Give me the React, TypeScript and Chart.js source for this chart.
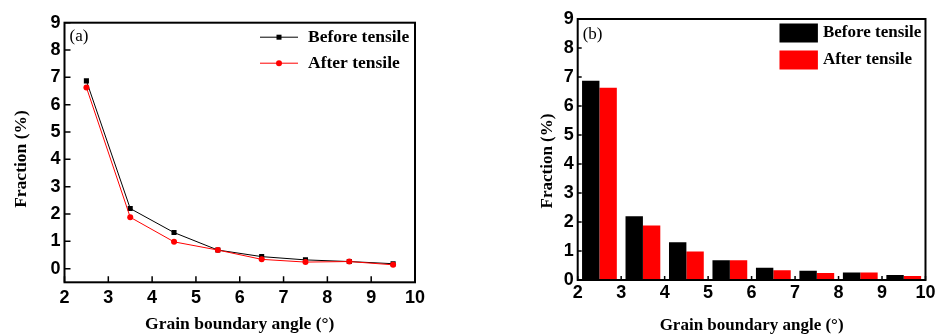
import React, { useEffect, useRef } from "react";
import { Chart, registerables } from "chart.js";

Chart.register(...registerables);

const angles = [2.5, 3.5, 4.5, 5.5, 6.5, 7.5, 8.5, 9.5];
const beforeA = [6.87, 2.2, 1.32, 0.68, 0.44, 0.32, 0.26, 0.18];
const afterA = [6.63, 1.88, 0.98, 0.68, 0.34, 0.24, 0.26, 0.14];
const beforeB = [6.87, 2.2, 1.3, 0.68, 0.42, 0.32, 0.26, 0.17];
const afterB = [6.63, 1.88, 0.98, 0.68, 0.34, 0.24, 0.26, 0.14];
const seriesLabels = ["Before tensile", "After tensile"];
const panelLabels = ["(a)", "(b)"];
const xTitle = "Grain boundary angle (\u00b0)";
const yTitle = "Fraction (%)";

const SERIF = '"Liberation Serif", "Times New Roman", serif';
const SANS = '"Liberation Sans", Arial, sans-serif';

const framePlugin = {
  id: "frame",
  afterDatasetsDraw(chart: any, _args: any, opts: any) {
    const { ctx, chartArea } = chart;
    const { left, top, right, bottom } = chartArea;
    const xs = chart.scales.x;
    const ys = chart.scales.y;
    ctx.save();
    ctx.strokeStyle = "#000";
    ctx.lineWidth = 1.5;
    ctx.beginPath();
    xs.ticks.forEach((t: any) => {
      const px = xs.getPixelForValue(t.value);
      ctx.moveTo(px, bottom);
      ctx.lineTo(px, bottom - opts.tickLen);
    });
    ys.ticks.forEach((t: any) => {
      const py = ys.getPixelForValue(t.value);
      ctx.moveTo(left, py);
      ctx.lineTo(left + opts.tickLen, py);
    });
    ctx.stroke();
    ctx.lineWidth = 2;
    ctx.strokeRect(left, top, right - left, bottom - top);

    // panel label
    ctx.fillStyle = "#000";
    ctx.font = `17px ${SERIF}`;
    ctx.textAlign = "left";
    ctx.textBaseline = "middle";
    ctx.fillText(opts.label, left + opts.labelDx, top + opts.labelDy);

    // y axis title
    ctx.save();
    ctx.font = `bold ${opts.titleSize}px ${SERIF}`;
    ctx.textAlign = "center";
    ctx.translate(opts.yTitleX, (top + bottom) / 2 + opts.yTitleDy);
    ctx.rotate(-Math.PI / 2);
    ctx.fillText(yTitle, 0, 0);
    ctx.restore();

    // legend
    ctx.font = `bold ${opts.legendFont}px ${SERIF}`;
    ctx.textAlign = "left";
    ctx.textBaseline = "middle";
    chart.data.datasets.forEach((ds: any, i: number) => {
      const y = top + opts.legY0 + i * opts.legGap;
      const color = ds.borderColor;
      if (opts.kind === "line") {
        const x0 = right + opts.sampleX0;
        const x1 = right + opts.sampleX1;
        ctx.strokeStyle = color;
        ctx.lineWidth = 1;
        ctx.beginPath();
        ctx.moveTo(x0, y);
        ctx.lineTo(x1, y);
        ctx.stroke();
        ctx.fillStyle = color;
        const cx = (x0 + x1) / 2;
        if (ds.pointStyle === "rect") {
          ctx.fillRect(cx - 2.5, y - 2.5, 5, 5);
        } else {
          ctx.beginPath();
          ctx.arc(cx, y, 3, 0, Math.PI * 2);
          ctx.fill();
        }
      } else {
        ctx.fillStyle = ds.backgroundColor;
        ctx.fillRect(right + opts.sampleX0, y - opts.boxH / 2, opts.sampleX1 - opts.sampleX0, opts.boxH);
      }
      ctx.fillStyle = "#000";
      ctx.fillText(ds.label, right + opts.textX, y);
    });
    ctx.restore();
  },
};

function makeScales(cfg: any) {
  return {
    x: {
      type: "linear",
      min: 2,
      max: 10,
      offset: false,
      grid: { display: false, drawTicks: false, offset: false },
      border: { display: false },
      ticks: {
        stepSize: 1,
        color: "#000",
        padding: cfg.xTickPad,
        font: { family: SANS, size: 18, weight: "bold" },
        maxRotation: 0,
      },
      title: {
        display: true,
        text: xTitle,
        color: "#000",
        font: { family: SERIF, size: cfg.titleSize, weight: "bold", lineHeight: 1.2 },
        padding: { top: 0, bottom: cfg.xTitlePad },
      },
      afterFit: (s: any) => {
        s.height = cfg.xHeight;
      },
    },
    y: {
      type: "linear",
      min: cfg.yMin,
      max: 9,
      grid: { display: false, drawTicks: false },
      border: { display: false },
      ticks: {
        stepSize: 1,
        includeBounds: false,
        color: "#000",
        padding: cfg.yTickPad,
        font: { family: SANS, size: 18, weight: "bold" },
      },
      title: { display: false, text: yTitle },
      afterFit: (s: any) => {
        s.width = cfg.yWidth;
      },
    },
  };
}

function LineChart() {
  const ref = useRef<HTMLCanvasElement>(null);
  useEffect(() => {
    const chart = new Chart(ref.current as HTMLCanvasElement, {
      type: "line",
      data: {
        datasets: [
          {
            label: seriesLabels[0],
            data: angles.map((x, i) => ({ x, y: beforeA[i] })),
            borderColor: "#000000",
            backgroundColor: "#000000",
            borderWidth: 1,
            pointStyle: "rect",
            pointRadius: 3.6,
            pointBorderWidth: 0,
            tension: 0,
            order: 1,
          },
          {
            label: seriesLabels[1],
            data: angles.map((x, i) => ({ x, y: afterA[i] })),
            borderColor: "#ff0000",
            backgroundColor: "#ff0000",
            borderWidth: 1,
            pointStyle: "circle",
            pointRadius: 3,
            pointBorderWidth: 0,
            tension: 0,
            order: 0,
          },
        ],
      },
      options: {
        animation: false,
        responsive: false,
        maintainAspectRatio: false,
        layout: { padding: { left: 0, top: 22.7, right: 25, bottom: 0 } },
        plugins: {
          legend: { display: false },
          tooltip: { enabled: false },
          frame: {
            tickLen: 6,
            label: panelLabels[0],
            labelDx: 5,
            labelDy: 14,
            kind: "line",
            legendFont: 17.5,
            legY0: 14.5,
            legGap: 26,
            sampleX0: -155,
            sampleX1: -117,
            textX: -107,
            titleSize: 17.5,
            yTitleX: 21,
            yTitleDy: 6.5,
          },
        } as any,
        scales: makeScales({
          yMin: -0.5,
          xTickPad: 5,
          yTickPad: 4,
          titleSize: 17.5,
          xTitlePad: 1,
          xHeight: 53.7,
          yWidth: 64.5,
        }) as any,
      },
      plugins: [framePlugin],
    });
    return () => chart.destroy();
  }, []);
  return <canvas ref={ref} width={440} height={336} style={{ position: "absolute", left: 0, top: 0, width: 440, height: 336 }} />;
}

function BarChart() {
  const ref = useRef<HTMLCanvasElement>(null);
  useEffect(() => {
    const chart = new Chart(ref.current as HTMLCanvasElement, {
      type: "bar",
      data: {
        datasets: [
          {
            label: seriesLabels[0],
            data: angles.map((x, i) => ({ x, y: beforeB[i] })),
            borderColor: "#000000",
            backgroundColor: "#000000",
            borderWidth: 0,
            categoryPercentage: 0.8,
            barPercentage: 1,
          },
          {
            label: seriesLabels[1],
            data: angles.map((x, i) => ({ x, y: afterB[i] })),
            borderColor: "#ff0000",
            backgroundColor: "#ff0000",
            borderWidth: 0,
            categoryPercentage: 0.8,
            barPercentage: 1,
          },
        ],
      },
      options: {
        animation: false,
        responsive: false,
        maintainAspectRatio: false,
        layout: { padding: { left: 0, top: 19, right: 8.7, bottom: 0 } },
        plugins: {
          legend: { display: false },
          tooltip: { enabled: false },
          frame: {
            tickLen: 4,
            label: panelLabels[1],
            labelDx: 5,
            labelDy: 16,
            kind: "bar",
            legendFont: 17,
            legY0: 14,
            legGap: 27,
            boxH: 19,
            sampleX0: -146,
            sampleX1: -107.6,
            textX: -102.6,
            titleSize: 17,
            yTitleX: 27.3,
            yTitleDy: 11.5,
          },
        } as any,
        scales: makeScales({
          yMin: 0,
          xTickPad: 2.5,
          yTickPad: 4,
          titleSize: 17,
          xTitlePad: 0,
          xHeight: 56,
          yWidth: 57.7,
        }) as any,
      },
      plugins: [framePlugin],
    });
    return () => chart.destroy();
  }, []);
  return <canvas ref={ref} width={418} height={336} style={{ position: "absolute", left: 520, top: 0, width: 418, height: 336 }} />;
}

export default function App() {
  return (
    <div style={{ position: "absolute", left: 0, top: 0, width: 938, height: 336, background: "#fff", overflow: "hidden" }}>
      <LineChart />
      <BarChart />
    </div>
  );
}
